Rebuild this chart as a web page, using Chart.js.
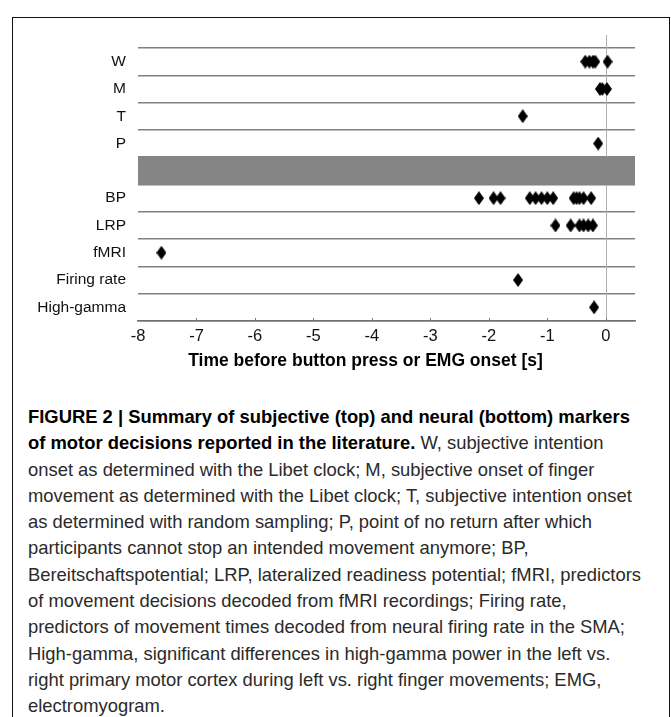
<!DOCTYPE html>
<html>
<head>
<meta charset="utf-8">
<script src="https://cdn.jsdelivr.net/npm/chart.js@4.4.0/dist/chart.umd.min.js"></script>
<style>
  body { margin: 0; background: #fff; width: 671px; height: 717px; overflow: hidden; position: relative;
         font-family: "Liberation Sans", Arial, sans-serif; }
  #frame { position: absolute; left: 12px; top: 17px; width: 658px; height: 740px;
           border: 1.5px solid #111; box-sizing: border-box; }
  #wrap { position: absolute; left: 0; top: 0; width: 671px; height: 390px; }
  #xtitle { position: absolute; left: 0; width: 731px; top: 349px; text-align: center;
            font-weight: bold; font-size: 17.5px; line-height: 22px; color: #000; }
  #caption { position: absolute; left: 28px; top: 404px; font-size: 18.4px; line-height: 26.3px;
             color: #2a2a2a; white-space: nowrap; }
  #caption b { color: #000; }
</style>
</head>
<body>
<div id="frame"></div>
<div id="wrap"><canvas id="markers" width="671" height="390"></canvas></div>
<div id="xtitle">Time before button press or EMG onset [s]</div>
<div id="caption">
<b>FIGURE 2 | Summary of subjective (top) and neural (bottom) markers</b><br>
<b>of motor decisions reported in the literature.</b> W, subjective intention<br>
onset as determined with the Libet clock; M, subjective onset of finger<br>
movement as determined with the Libet clock; T, subjective intention onset<br>
as determined with random sampling; P, point of no return after which<br>
participants cannot stop an intended movement anymore; BP,<br>
Bereitschaftspotential; LRP, lateralized readiness potential; fMRI, predictors<br>
of movement decisions decoded from fMRI recordings; Firing rate,<br>
predictors of movement times decoded from neural firing rate in the SMA;<br>
High-gamma, significant differences in high-gamma power in the left vs.<br>
right primary motor cortex during left vs. right finger movements; EMG,<br>
electromyogram.
</div>
<script>
// rows, top to bottom ('' is the grey separator band)
const rowLabels = ['W', 'M', 'T', 'P', '', 'BP', 'LRP', 'fMRI', 'Firing rate', 'High-gamma'];

// times (s) before button press / EMG onset
const wTimes = [-0.35, -0.28, -0.22, -0.18, 0.03];
const mTimes = [-0.1, -0.06, 0.02];
const tTimes = [-1.42];
const pTimes = [-0.13];
const bpTimes = [-2.17, -1.92, -1.8, -1.3, -1.2, -1.1, -1.0, -0.9, -0.55, -0.5, -0.45, -0.38, -0.25];
const lrpTimes = [-0.86, -0.6, -0.45, -0.38, -0.3, -0.22];
const fmriTimes = [-7.6];
const firingTimes = [-1.5];
const gammaTimes = [-0.2];

const xTicks = [-8, -7, -6, -5, -4, -3, -2, -1, 0];
const bandRange = [-8, 0.5];

const rows = [
  ['W', wTimes], ['M', mTimes], ['T', tTimes], ['P', pTimes],
  ['BP', bpTimes], ['LRP', lrpTimes], ['fMRI', fmriTimes],
  ['Firing rate', firingTimes], ['High-gamma', gammaTimes]
];
const points = [];
rows.forEach(([label, times]) => times.forEach(t => points.push({ x: t, y: label })));

// tall diamond marker
const diamond = document.createElement('canvas');
diamond.width = 10; diamond.height = 14;
const dc = diamond.getContext('2d');
dc.fillStyle = '#000';
dc.beginPath();
dc.moveTo(5, 0); dc.lineTo(10, 7); dc.lineTo(5, 14); dc.lineTo(0, 7);
dc.closePath();
dc.fill();

// vertical line at t = 0 and the small upward tick marks
const extras = {
  id: 'extras',
  beforeDatasetsDraw(chart) {
    const { ctx, chartArea, scales } = chart;
    const x0 = Math.round(scales.x.getPixelForValue(0)) + 0.5;
    ctx.save();
    ctx.strokeStyle = '#b0b0b0';
    ctx.lineWidth = 1;
    ctx.beginPath();
    ctx.moveTo(x0, chartArea.top - 13);
    ctx.lineTo(x0, chartArea.bottom);
    ctx.stroke();
    ctx.restore();
  },
  afterDraw(chart) {
    const { ctx, chartArea, scales } = chart;
    ctx.save();
    ctx.strokeStyle = '#777';
    ctx.lineWidth = 1;
    xTicks.slice(1).forEach(v => {
      const x = Math.round(scales.x.getPixelForValue(v)) + 0.5;
      ctx.beginPath();
      ctx.moveTo(x, chartArea.bottom);
      ctx.lineTo(x, chartArea.bottom - 3);
      ctx.stroke();
    });
    ctx.restore();
  }
};

new Chart(document.getElementById('markers'), {
  type: 'bar',
  data: {
    labels: rowLabels,
    datasets: [
      {
        type: 'scatter',
        data: points,
        pointStyle: diamond,
        pointRadius: 6,
        order: 1
      },
      {
        type: 'bar',
        data: rowLabels.map(l => (l === '' ? bandRange : null)),
        backgroundColor: '#858585',
        borderWidth: 0,
        barPercentage: 1,
        categoryPercentage: 1,
        order: 2
      }
    ]
  },
  options: {
    indexAxis: 'y',
    responsive: false,
    animation: false,
    layout: { padding: { left: 0, right: 36, top: 48, bottom: 19 } },
    plugins: { legend: { display: false }, tooltip: { enabled: false } },
    scales: {
      y: {
        type: 'category',
        labels: rowLabels,
        offset: true,
        grid: { offset: true, color: '#808080', lineWidth: 1.5, drawTicks: false },
        border: { display: false },
        ticks: { color: '#111', font: { family: 'Liberation Sans', size: 15.5 }, padding: 12 },
        afterFit: s => { s.width = 138; }
      },
      x: {
        type: 'linear',
        min: -8,
        max: 0.5,
        offset: false,
        grid: { display: false, offset: false, drawTicks: false },
        border: { display: true, color: '#707070', width: 1.5 },
        afterBuildTicks: s => { s.ticks = xTicks.map(v => ({ value: v })); },
        ticks: { color: '#111', font: { family: 'Liberation Sans', size: 16.5 }, padding: 6 },
        afterFit: s => { s.height = 50; }
      }
    }
  },
  plugins: [extras]
});
</script>
</body>
</html>
